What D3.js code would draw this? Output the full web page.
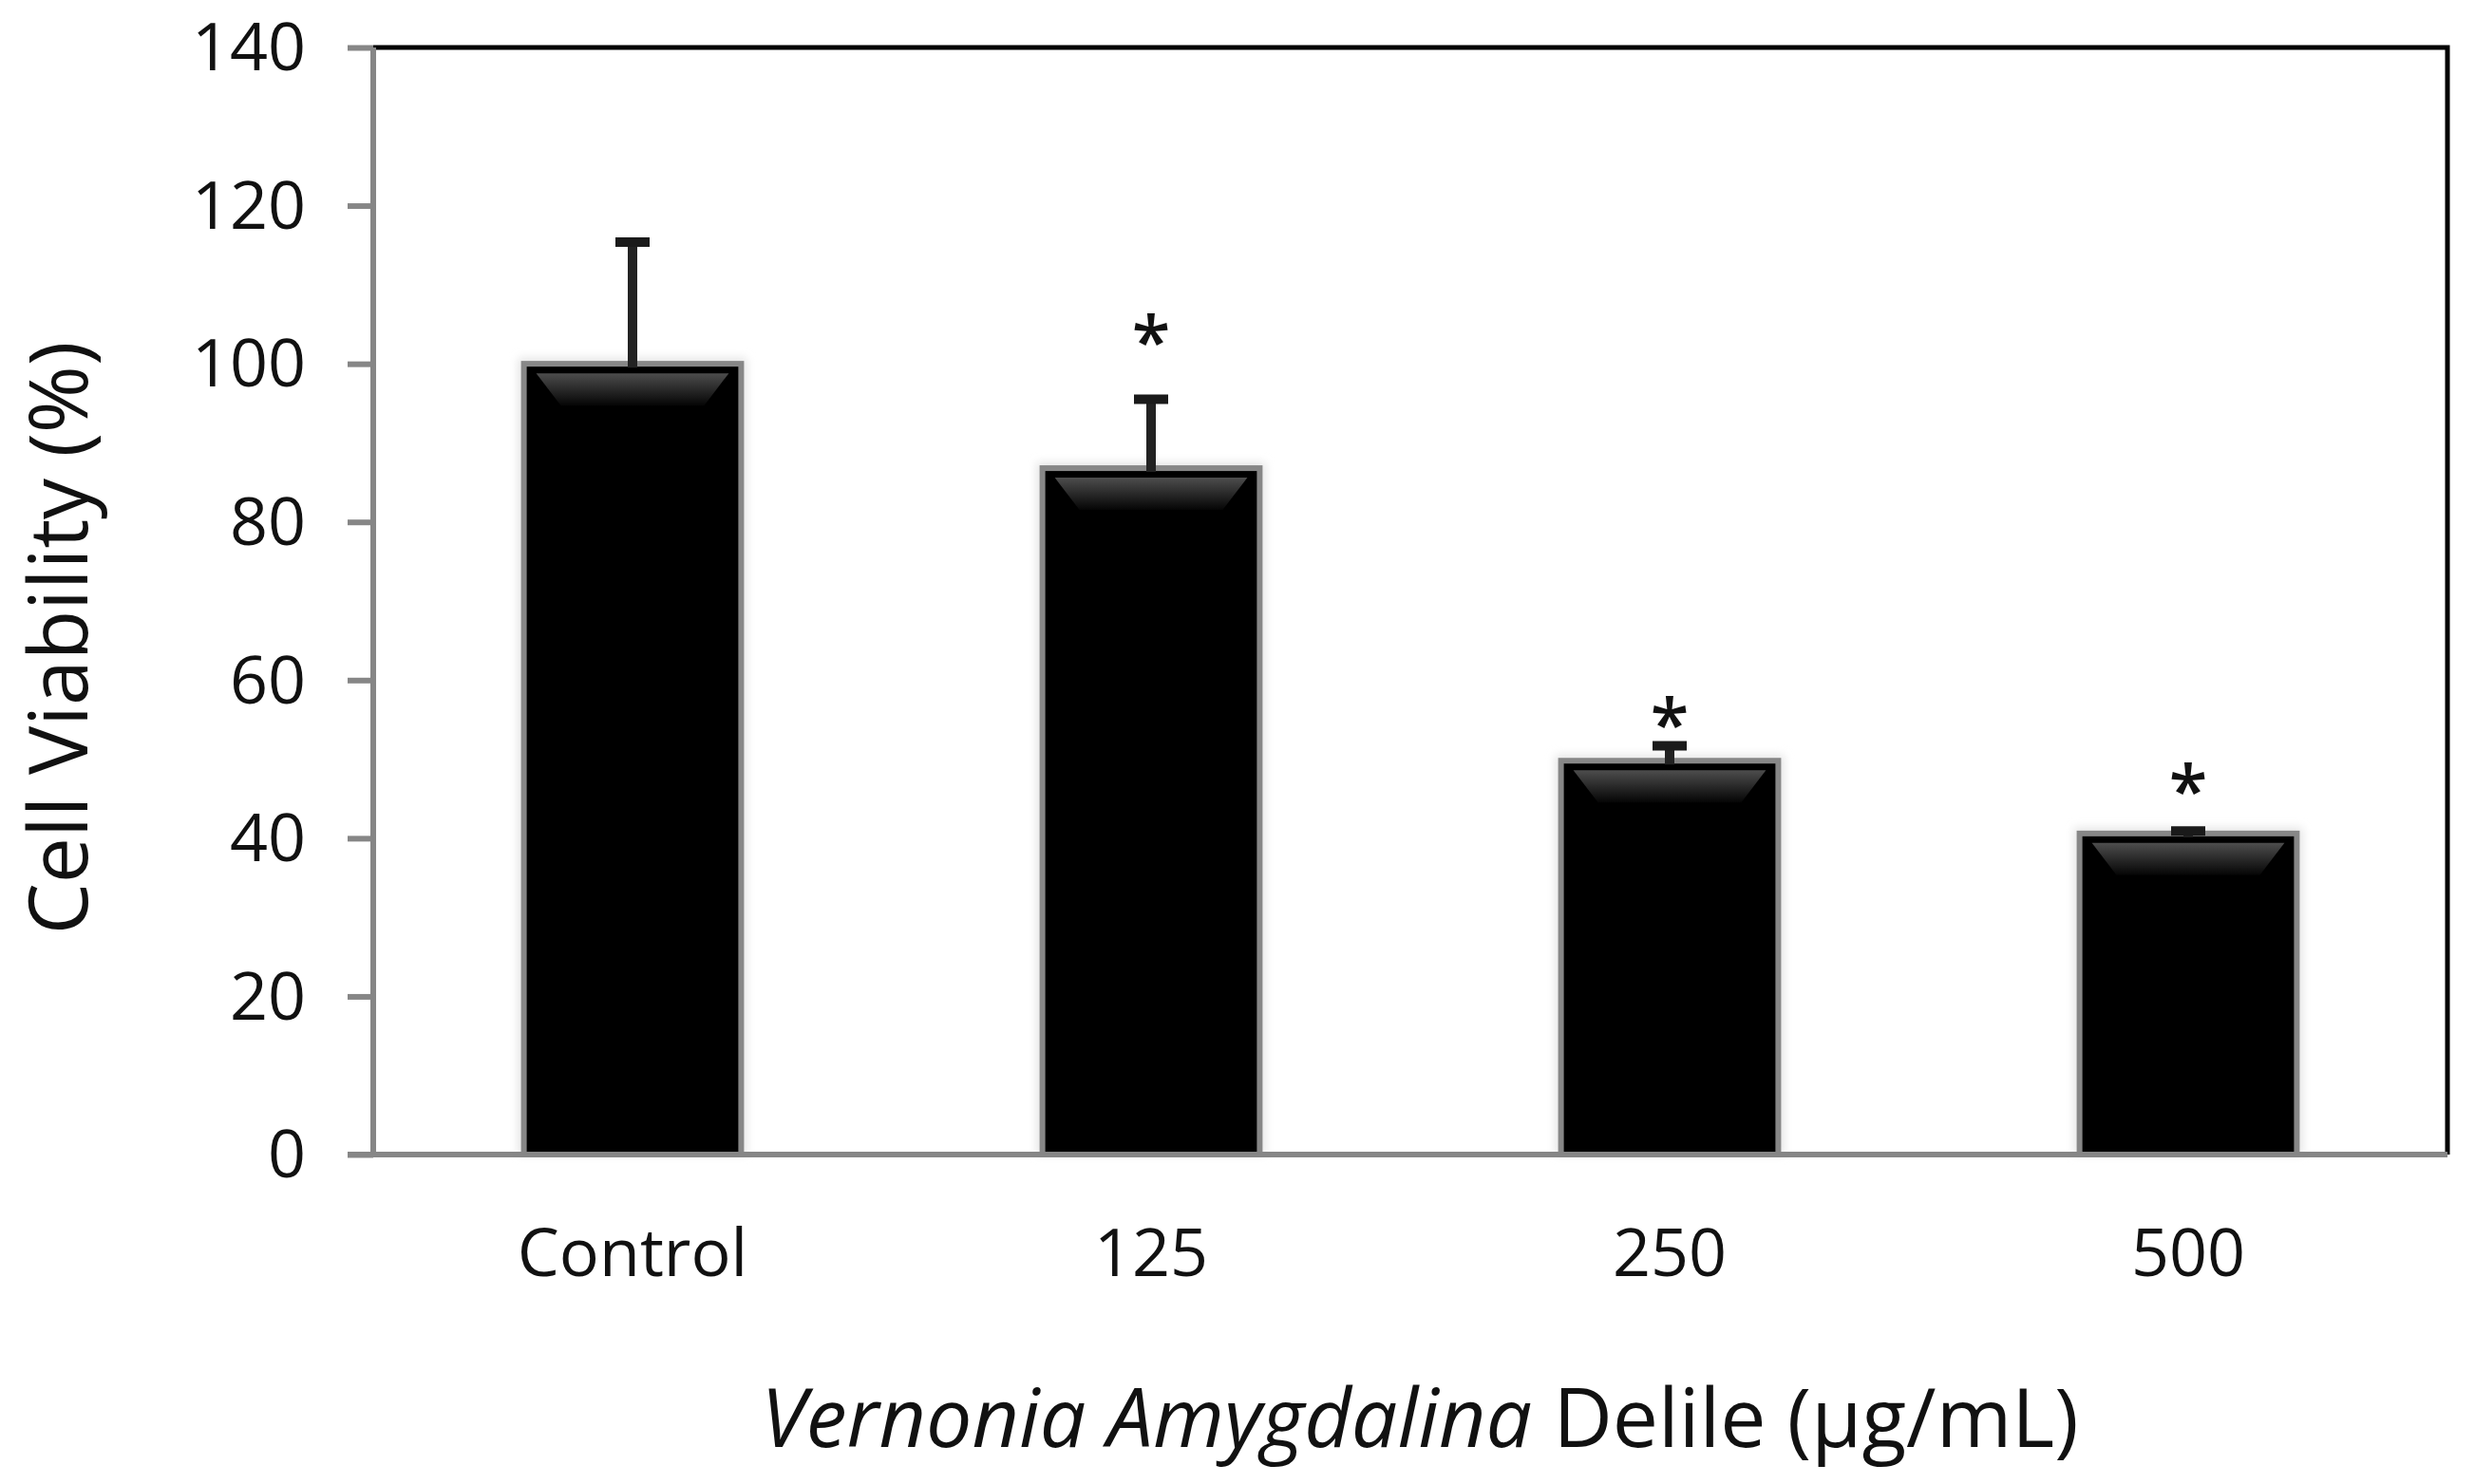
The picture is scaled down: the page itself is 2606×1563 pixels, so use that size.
<!DOCTYPE html>
<html>
<head>
<meta charset="utf-8">
<script src="https://cdn.jsdelivr.net/npm/d3@7"></script>
<style>
  body { margin: 0; background: #fff; }
  text { font-family: "Open Sans", "Noto Sans", sans-serif; fill: #111; }
</style>
</head>
<body>
<svg id="chart"></svg>
<script>
// values
const groups = ["Control", "125", "250", "500"];
const viability = [100, 86.8, 49.8, 40.6];
const sdev = [15.4, 8.7, 1.9, 0.3];
// star marks (in % units), null = none
const starAt = [null, 103.7, 55.3, 46.9];
const yTicks = [0, 20, 40, 60, 80, 100, 120, 140];

const width = 2606, height = 1563;
const margin = { top: 50, right: 29, bottom: 347, left: 393 };
const svg = d3.select("#chart").attr("width", width).attr("height", height);

const innerW = width - margin.left - margin.right;
const innerH = height - margin.top - margin.bottom;

const x = d3.scaleBand().domain(groups).range([0, innerW])
  .paddingInner(0.57).paddingOuter(0.285);
const y = d3.scaleLinear().domain([0, 140]).range([innerH, 0]);

const defs = svg.append("defs");
const grad = defs.append("linearGradient").attr("id", "hl")
  .attr("x1", 0).attr("y1", 0).attr("x2", 0).attr("y2", 1);
grad.append("stop").attr("offset", "0%").attr("stop-color", "#4d4d4d");
grad.append("stop").attr("offset", "100%").attr("stop-color", "#050505");
const blur = defs.append("filter").attr("id", "soft")
  .attr("x", "-20%").attr("y", "-20%").attr("width", "140%").attr("height", "140%");
blur.append("feGaussianBlur").attr("stdDeviation", 5);

const g = svg.append("g").attr("transform", `translate(${margin.left},${margin.top})`);

// frame: top and right black
g.append("path")
  .attr("d", `M0,0H${innerW}V${innerH}`)
  .attr("fill", "none").attr("stroke", "#000").attr("stroke-width", 5);

const rows = groups.map((k, i) => ({ k, v: viability[i], sd: sdev[i], star: starAt[i] }));

// soft glow behind bars
g.selectAll("rect.glow").data(rows).enter().append("rect")
  .attr("class", "glow")
  .attr("x", (d) => x(d.k) - 3)
  .attr("y", (d) => y(d.v) - 6)
  .attr("width", x.bandwidth() + 6)
  .attr("height", (d) => innerH - y(d.v) + 6)
  .attr("fill", "#e4e4e4").attr("filter", "url(#soft)");

// bars
const bw = x.bandwidth();
g.selectAll("rect.bar").data(rows).enter().append("rect")
  .attr("class", "bar")
  .attr("x", (d) => x(d.k) + 3)
  .attr("y", (d) => y(d.v))
  .attr("width", bw - 6)
  .attr("height", (d) => innerH - y(d.v))
  .attr("fill", "#000").attr("stroke", "#878787").attr("stroke-width", 6);

// top highlight band on each bar
g.selectAll("path.hl").data(rows).enter().append("path")
  .attr("class", "hl")
  .attr("d", (d) => {
    const x0 = x(d.k) + 16, x1 = x(d.k) + bw - 16, t = y(d.v) + 10;
    return `M${x0},${t}H${x1}L${x1 - 26},${t + 34}H${x0 + 26}Z`;
  })
  .attr("fill", "url(#hl)");

// error bars (upper only)
const eb = g.selectAll("g.err").data(rows).enter().append("g").attr("class", "err")
  .attr("transform", (d) => `translate(${x(d.k) + bw / 2},0)`);
eb.append("line")
  .attr("y1", (d) => y(d.v) + 4).attr("y2", (d) => y(d.v + d.sd))
  .attr("stroke", "#e0e0e0").attr("stroke-width", 26).attr("filter", "url(#soft)");
eb.append("line")
  .attr("y1", (d) => y(d.v) + 4).attr("y2", (d) => y(d.v + d.sd))
  .attr("stroke", "#222").attr("stroke-width", 10);
eb.append("line")
  .attr("x1", -18).attr("x2", 18)
  .attr("y1", (d) => y(d.v + d.sd)).attr("y2", (d) => y(d.v + d.sd))
  .attr("stroke", "#1a1a1a").attr("stroke-width", 10);

// significance stars
g.selectAll("text.star").data(rows.filter((d) => d.star != null)).enter().append("text")
  .attr("class", "star")
  .attr("x", (d) => x(d.k) + bw / 2)
  .attr("y", (d) => y(d.star) + 34)
  .attr("text-anchor", "middle")
  .attr("font-size", 74).attr("font-weight", 600)
  .text("*");

// y axis (grey)
const yAxis = g.append("g").call(
  d3.axisLeft(y).tickValues(yTicks).tickSize(27).tickPadding(44).tickFormat(d3.format("d"))
);
yAxis.select(".domain").attr("stroke", "#868686").attr("stroke-width", 6)
  .attr("d", `M0,${innerH + 3}V0`);
yAxis.selectAll(".tick line").attr("stroke", "#868686").attr("stroke-width", 6);
yAxis.selectAll(".tick text").attr("font-size", 70).attr("fill", "#111")
  .attr("font-family", "'Open Sans', sans-serif").attr("dy", "0.34em");

// x axis (grey, no ticks)
const xAxis = g.append("g").attr("transform", `translate(0,${innerH})`)
  .call(d3.axisBottom(x).tickSize(0).tickPadding(78));
xAxis.select(".domain").attr("stroke", "#868686").attr("stroke-width", 6)
  .attr("d", `M-27,0H${innerW}`);
xAxis.selectAll(".tick text").attr("font-size", 70).attr("fill", "#111")
  .attr("font-family", "'Open Sans', sans-serif");

// axis titles
svg.append("text")
  .attr("transform", `translate(92,672) rotate(-90)`)
  .attr("text-anchor", "middle")
  .attr("font-size", 86)
  .text("Cell Viability (%)");

const xt = svg.append("text")
  .attr("x", 1495).attr("y", 1524)
  .attr("text-anchor", "middle")
  .attr("font-size", 86);
xt.append("tspan").attr("font-style", "italic").text("Vernonia Amygdalina");
xt.append("tspan").text(" Delile (μg/mL)");
</script>
</body>
</html>
